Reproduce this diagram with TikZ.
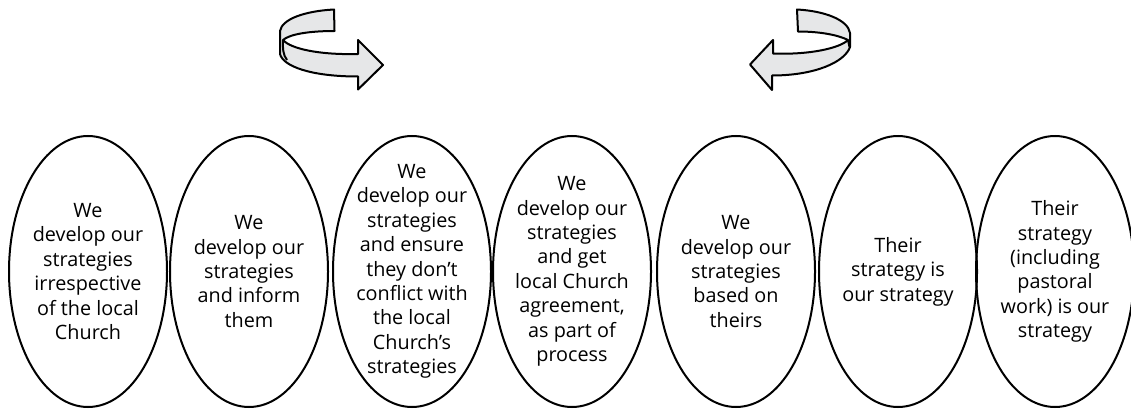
\documentclass[tikz,border=0pt]{standalone}
\usepackage{fontspec}
\setmainfont{Open Sans}
\usetikzlibrary{shapes.geometric}
\definecolor{ribbon}{HTML}{E6E7E8}
\tikzset{
  oval/.style={draw=black, line width=2pt, ellipse, minimum width=158pt, minimum height=271pt, inner sep=0pt},
  ovaltext/.style={align=center, font=\fontsize{19.8}{24.4}\selectfont, inner sep=0pt},
  ribbonarrow/.style={draw=black, fill=ribbon, line width=2pt, line join=round}
}
\begin{document}
\begin{tikzpicture}[x=1pt,y=-1pt]
\useasboundingbox (0,0) rectangle (1131,409);
% ellipses
\node[oval] (e1) at (88,271.5) {};
\node[oval] (e2) at (249,271.5) {};
\node[oval] (e3) at (412,271.5) {};
\node[oval] (e4) at (572,271.5) {};
\node[oval] (e5) at (736,271.5) {};
\node[oval] (e6) at (898,271.5) {};
\node[oval] (e7) at (1055,271.5) {};
\node[ovaltext] (t1) at (e1.center) {We\\develop our\\strategies\\irrespective\\of the local\\Church};
\node[ovaltext] (t2) at (e2.center) {We\\develop our\\strategies\\and inform\\them};
\node[ovaltext] (t3) at (e3.center) {We\\develop our\\strategies\\and ensure\\they don’t\\conflict with\\the local\\Church’s\\strategies};
\node[ovaltext] (t4) at (e4.center) {We\\develop our\\strategies\\and get\\local Church\\agreement,\\as part of\\process};
\node[ovaltext] (t5) at (e5.center) {We\\develop our\\strategies\\based on\\theirs};
\node[ovaltext] (t6) at (e6.center) {Their\\strategy is\\our strategy};
\node[ovaltext] (t7) at (e7.center) {Their\\strategy\\(including\\pastoral\\work) is our\\strategy};
% left ribbon arrow
\draw[ribbonarrow] (334,9.5) .. controls (305,11) and (282,19) .. (280,31) -- (280,54)
  .. controls (283,66) and (310,76.5) .. (358,76.5) -- (358,89.5) -- (383,65) -- (358,40) -- (358,54)
  .. controls (320,55) and (291,49) .. (283,40)
  .. controls (290,34) and (310,31) .. (334.5,31) -- cycle;
\draw[line width=2pt] (283,40) .. controls (282.5,48) and (283,55) .. (287,60);
% right ribbon arrow
\draw[ribbonarrow] (797,9.5) .. controls (825,11) and (848,20) .. (850,33) -- (850,47)
  .. controls (845,62) and (815,75.5) .. (772,75.5) -- (772,90) -- (750,64.5) -- (773,40) -- (773,53.5)
  .. controls (810,55) and (840,48) .. (848,40)
  .. controls (838,35) and (820,31.5) .. (798,31.5) -- cycle;
\draw[line width=2pt] (848,40) -- (849.5,47);
\end{tikzpicture}
\end{document}
